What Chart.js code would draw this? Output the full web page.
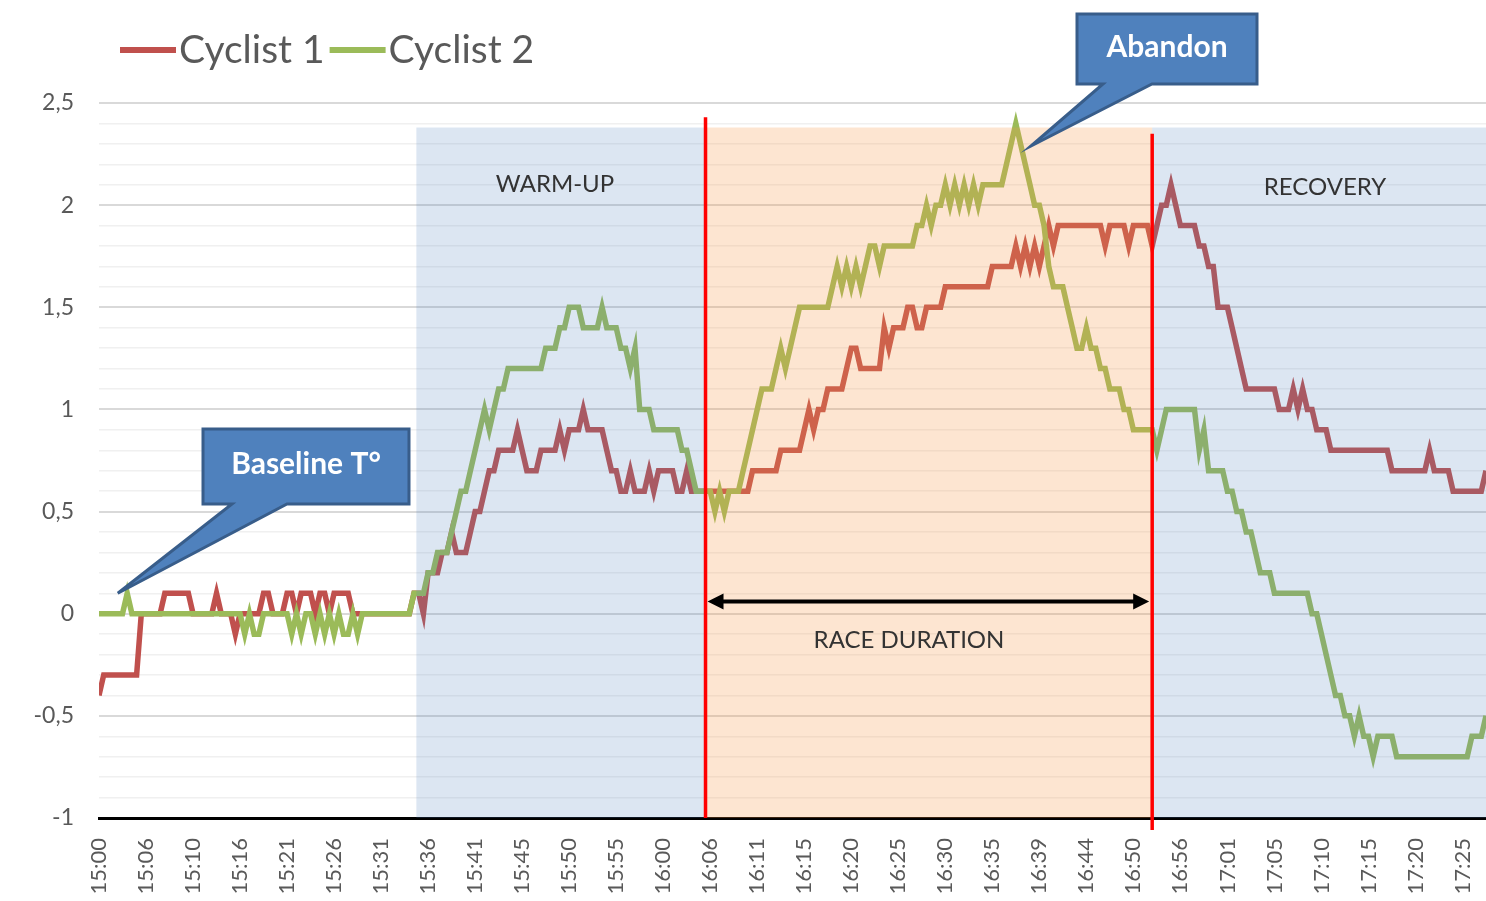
<!DOCTYPE html>
<html>
<head>
<meta charset="utf-8">
<script src="https://cdn.jsdelivr.net/npm/chart.js@4.4.1/dist/chart.umd.min.js"></script>
<style>
  body { margin: 0; background: #fff; }
  canvas { display: block; }
</style>
</head>
<body>
<canvas id="tempChart" width="1486" height="901"></canvas>
<script>
// one tick label every 10 samples
const timeLabels = ['15:00','15:06','15:10','15:16','15:21','15:26','15:31','15:36','15:41','15:45',
  '15:50','15:55','16:00','16:06','16:11','16:15','16:20','16:25','16:30','16:35',
  '16:39','16:44','16:50','16:56','17:01','17:05','17:10','17:15','17:20','17:25'];

const cyclist1 = [
  -0.4,-0.3,-0.3,-0.3,-0.3,-0.3,-0.3,-0.3,-0.3,0,
  0,0,0,0,0.1,0.1,0.1,0.1,0.1,0.1,
  0,0,0,0,0,0.1,0,0,0,-0.1,
  0,0,0,0,0,0.1,0.1,0,0,0,
  0.1,0.1,0,0.1,0.1,0.1,0,0.1,0.1,0,
  0.1,0.1,0.1,0.1,0,0,0,0,0,0,
  0,0,0,0,0,0,0,0.1,0.1,0,
  0.2,0.2,0.2,0.3,0.3,0.4,0.3,0.3,0.3,0.4,
  0.5,0.5,0.6,0.7,0.7,0.8,0.8,0.8,0.8,0.9,
  0.8,0.7,0.7,0.7,0.8,0.8,0.8,0.8,0.9,0.8,
  0.9,0.9,0.9,1.0,0.9,0.9,0.9,0.9,0.8,0.7,
  0.7,0.6,0.6,0.7,0.6,0.6,0.6,0.7,0.6,0.7,
  0.7,0.7,0.7,0.6,0.6,0.7,0.6,0.6,0.6,0.6,
  0.6,0.6,0.6,0.6,0.6,0.6,0.6,0.6,0.6,0.7,
  0.7,0.7,0.7,0.7,0.7,0.8,0.8,0.8,0.8,0.8,
  0.9,1.0,0.9,1.0,1.0,1.1,1.1,1.1,1.1,1.2,
  1.3,1.3,1.2,1.2,1.2,1.2,1.2,1.4,1.3,1.4,
  1.4,1.4,1.5,1.5,1.4,1.4,1.5,1.5,1.5,1.5,
  1.6,1.6,1.6,1.6,1.6,1.6,1.6,1.6,1.6,1.6,
  1.7,1.7,1.7,1.7,1.7,1.8,1.7,1.8,1.7,1.8,
  1.7,1.8,1.9,1.8,1.9,1.9,1.9,1.9,1.9,1.9,
  1.9,1.9,1.9,1.9,1.8,1.9,1.9,1.9,1.9,1.8,
  1.9,1.9,1.9,1.9,1.8,1.9,2.0,2.0,2.1,2.0,
  1.9,1.9,1.9,1.9,1.8,1.8,1.7,1.7,1.5,1.5,
  1.5,1.4,1.3,1.2,1.1,1.1,1.1,1.1,1.1,1.1,
  1.1,1.0,1.0,1.0,1.1,1.0,1.1,1.0,1.0,0.9,
  0.9,0.9,0.8,0.8,0.8,0.8,0.8,0.8,0.8,0.8,
  0.8,0.8,0.8,0.8,0.8,0.7,0.7,0.7,0.7,0.7,
  0.7,0.7,0.7,0.8,0.7,0.7,0.7,0.7,0.6,0.6,
  0.6,0.6,0.6,0.6,0.6,0.7
];

const cyclist2 = [
  0,0,0,0,0,0,0.1,0,0,0,
  0,0,0,0,0,0,0,0,0,0,
  0,0,0,0,0,0,0,0,0,0,
  0,-0.1,0,-0.1,-0.1,0,0,0,0,0,
  0,-0.1,0,-0.1,0,0,-0.1,0,-0.1,0,
  -0.1,0,-0.1,-0.1,0,-0.1,0,0,0,0,
  0,0,0,0,0,0,0,0.1,0.1,0.1,
  0.2,0.2,0.3,0.3,0.3,0.4,0.5,0.6,0.6,0.7,
  0.8,0.9,1.0,0.9,1.0,1.1,1.1,1.2,1.2,1.2,
  1.2,1.2,1.2,1.2,1.2,1.3,1.3,1.3,1.4,1.4,
  1.5,1.5,1.5,1.4,1.4,1.4,1.4,1.5,1.4,1.4,
  1.4,1.3,1.3,1.2,1.3,1.0,1.0,1.0,0.9,0.9,
  0.9,0.9,0.9,0.9,0.8,0.8,0.7,0.6,0.6,0.6,
  0.6,0.5,0.6,0.5,0.6,0.6,0.6,0.7,0.8,0.9,
  1.0,1.1,1.1,1.1,1.2,1.3,1.2,1.3,1.4,1.5,
  1.5,1.5,1.5,1.5,1.5,1.5,1.6,1.7,1.6,1.7,
  1.6,1.7,1.6,1.7,1.8,1.8,1.7,1.8,1.8,1.8,
  1.8,1.8,1.8,1.8,1.9,1.9,2.0,1.9,2.0,2.0,
  2.1,2.0,2.1,2.0,2.1,2.0,2.1,2.0,2.1,2.1,
  2.1,2.1,2.1,2.2,2.3,2.4,2.3,2.2,2.1,2.0,
  2.0,1.9,1.7,1.6,1.6,1.6,1.5,1.4,1.3,1.3,
  1.4,1.3,1.3,1.2,1.2,1.1,1.1,1.1,1.0,1.0,
  0.9,0.9,0.9,0.9,0.9,0.8,0.9,1.0,1.0,1.0,
  1.0,1.0,1.0,1.0,0.8,0.9,0.7,0.7,0.7,0.7,
  0.6,0.6,0.5,0.5,0.4,0.4,0.3,0.2,0.2,0.2,
  0.1,0.1,0.1,0.1,0.1,0.1,0.1,0.1,0,0,
  -0.1,-0.2,-0.3,-0.4,-0.4,-0.5,-0.5,-0.6,-0.5,-0.6,
  -0.6,-0.7,-0.6,-0.6,-0.6,-0.6,-0.7,-0.7,-0.7,-0.7,
  -0.7,-0.7,-0.7,-0.7,-0.7,-0.7,-0.7,-0.7,-0.7,-0.7,
  -0.7,-0.7,-0.6,-0.6,-0.6,-0.5
];

// phase limits, in sample index
const warmUpStart = 67.5;
const raceStart = 129;
const raceEnd = 224;
const lastSample = 295;
const shadeTop = 2.38;

const FONT = 'Lato, "Open Sans", sans-serif';
const isMajor = v => Math.round(v * 10) % 5 === 0;

function callout(ctx, box, baseL, baseR, tip, text) {
  ctx.beginPath();
  ctx.moveTo(box.l, box.t);
  ctx.lineTo(box.r, box.t);
  ctx.lineTo(box.r, box.b);
  ctx.lineTo(baseR, box.b);
  ctx.lineTo(tip[0], tip[1]);
  ctx.lineTo(baseL, box.b);
  ctx.lineTo(box.l, box.b);
  ctx.closePath();
  ctx.fillStyle = '#4F81BD';
  ctx.fill();
  ctx.lineWidth = 3;
  ctx.strokeStyle = '#385D8A';
  ctx.lineJoin = 'miter';
  ctx.stroke();
  ctx.fillStyle = '#fff';
  ctx.font = 'bold 30px ' + FONT;
  ctx.textAlign = 'center';
  ctx.textBaseline = 'middle';
  ctx.fillText(text, (box.l + box.r) / 2, (box.t + box.b) / 2 - 2);
}

const raceAnnotations = {
  id: 'raceAnnotations',
  afterDatasetsDraw(chart) {
    const { ctx, chartArea: a, scales: { x, y } } = chart;
    const top = y.getPixelForValue(shadeTop);
    const xw = x.getPixelForValue(warmUpStart);
    const xs = x.getPixelForValue(raceStart);
    const xe = x.getPixelForValue(raceEnd);
    ctx.save();

    // shading sits over the lines, like the shapes in the original
    ctx.fillStyle = 'rgba(79,129,189,0.2)';
    ctx.fillRect(xw, top, xs - xw, a.bottom - top);
    ctx.fillRect(xe, top, a.right - xe, a.bottom - top);
    ctx.fillStyle = 'rgba(247,150,70,0.25)';
    ctx.fillRect(xs, top, xe - xs, a.bottom - top);

    // race start / end markers
    ctx.strokeStyle = '#FF0000';
    ctx.lineWidth = 3.5;
    ctx.beginPath();
    ctx.moveTo(xs, y.getPixelForValue(2.43));
    ctx.lineTo(xs, a.bottom);
    ctx.moveTo(xe, y.getPixelForValue(2.35));
    ctx.lineTo(xe, a.bottom + 12);
    ctx.stroke();

    // race duration arrow
    const ay = y.getPixelForValue(0.06);
    const l = xs + 2, r = xe - 3;
    ctx.strokeStyle = '#000';
    ctx.fillStyle = '#000';
    ctx.lineWidth = 4;
    ctx.beginPath();
    ctx.moveTo(l + 10, ay);
    ctx.lineTo(r - 10, ay);
    ctx.stroke();
    ctx.beginPath();
    ctx.moveTo(l, ay); ctx.lineTo(l + 16, ay - 8); ctx.lineTo(l + 16, ay + 8); ctx.closePath();
    ctx.moveTo(r, ay); ctx.lineTo(r - 16, ay - 8); ctx.lineTo(r - 16, ay + 8); ctx.closePath();
    ctx.fill();

    // phase labels
    ctx.fillStyle = '#333';
    ctx.font = '24px ' + FONT;
    ctx.textAlign = 'center';
    ctx.textBaseline = 'middle';
    ctx.fillText('WARM-UP', 555, 184);
    ctx.fillText('RACE DURATION', 909, 640);
    ctx.fillText('RECOVERY', 1325, 187);

    // callouts
    callout(ctx, { l: 203, t: 429, r: 409, b: 504 }, 232, 287,
      [x.getPixelForValue(4), y.getPixelForValue(0.1)], 'Baseline T°');
    callout(ctx, { l: 1077, t: 14, r: 1257, b: 84 }, 1103, 1152,
      [1031, 146], 'Abandon');

    // legend
    ctx.font = '39px ' + FONT;
    ctx.textAlign = 'left';
    ctx.textBaseline = 'middle';
    let lx = 120;
    chart.data.datasets.forEach(ds => {
      ctx.strokeStyle = ds.borderColor;
      ctx.lineWidth = 6;
      ctx.beginPath();
      ctx.moveTo(lx, 50);
      ctx.lineTo(lx + 56, 50);
      ctx.stroke();
      ctx.fillStyle = '#595959';
      ctx.fillText(ds.label, lx + 59, 50);
      lx += 59 + ctx.measureText(ds.label).width + 5;
    });
    ctx.restore();
  }
};

const points = arr => arr.map((v, i) => ({ x: i, y: v }));

new Chart(document.getElementById('tempChart'), {
  type: 'line',
  data: {
    datasets: [
      {
        label: 'Cyclist 1',
        data: points(cyclist1),
        borderColor: '#C0504D',
        borderWidth: 5.5,
        pointRadius: 0,
        tension: 0,
        order: 2
      },
      {
        label: 'Cyclist 2',
        data: points(cyclist2),
        borderColor: '#9BBB59',
        borderWidth: 5.5,
        pointRadius: 0,
        tension: 0,
        order: 1
      }
    ]
  },
  options: {
    responsive: false,
    animation: false,
    devicePixelRatio: 1,
    layout: { padding: { top: 103, left: 0, right: 0, bottom: 0 } },
    plugins: {
      legend: { display: false },
      tooltip: { enabled: false }
    },
    scales: {
      x: {
        type: 'linear',
        min: 0,
        max: lastSample,
        grid: { display: false },
        border: { color: '#000', width: 3 },
        ticks: {
          autoSkip: false,
          minRotation: 90,
          maxRotation: 90,
          padding: 12,
          color: '#595959',
          font: { family: FONT, size: 22 },
          callback: v => timeLabels[v / 10] ?? ''
        },
        // one tick per time label
        afterBuildTicks: s => { s.ticks = timeLabels.map((_, i) => ({ value: i * 10 })); },
        afterFit: s => { s.height = 83; s.paddingLeft = 0; s.paddingRight = 0; }
      },
      y: {
        min: -1,
        max: 2.5,
        border: { display: false },
        grid: {
          drawTicks: false,
          color: c => isMajor(c.tick.value) ? '#D9D9D9' : '#F0F0F0',
          lineWidth: c => isMajor(c.tick.value) ? 2 : 1.5
        },
        ticks: {
          stepSize: 0.1,
          autoSkip: false,
          maxTicksLimit: 100,
          padding: 25,
          color: '#595959',
          font: { family: FONT, size: 23 },
          callback: v => isMajor(v) ? String(Math.round(v * 10) / 10).replace('.', ',') : ''
        },
        afterFit: s => { s.width = 99; s.paddingTop = 0; s.paddingBottom = 0; }
      }
    }
  },
  plugins: [raceAnnotations]
});
</script>
</body>
</html>
